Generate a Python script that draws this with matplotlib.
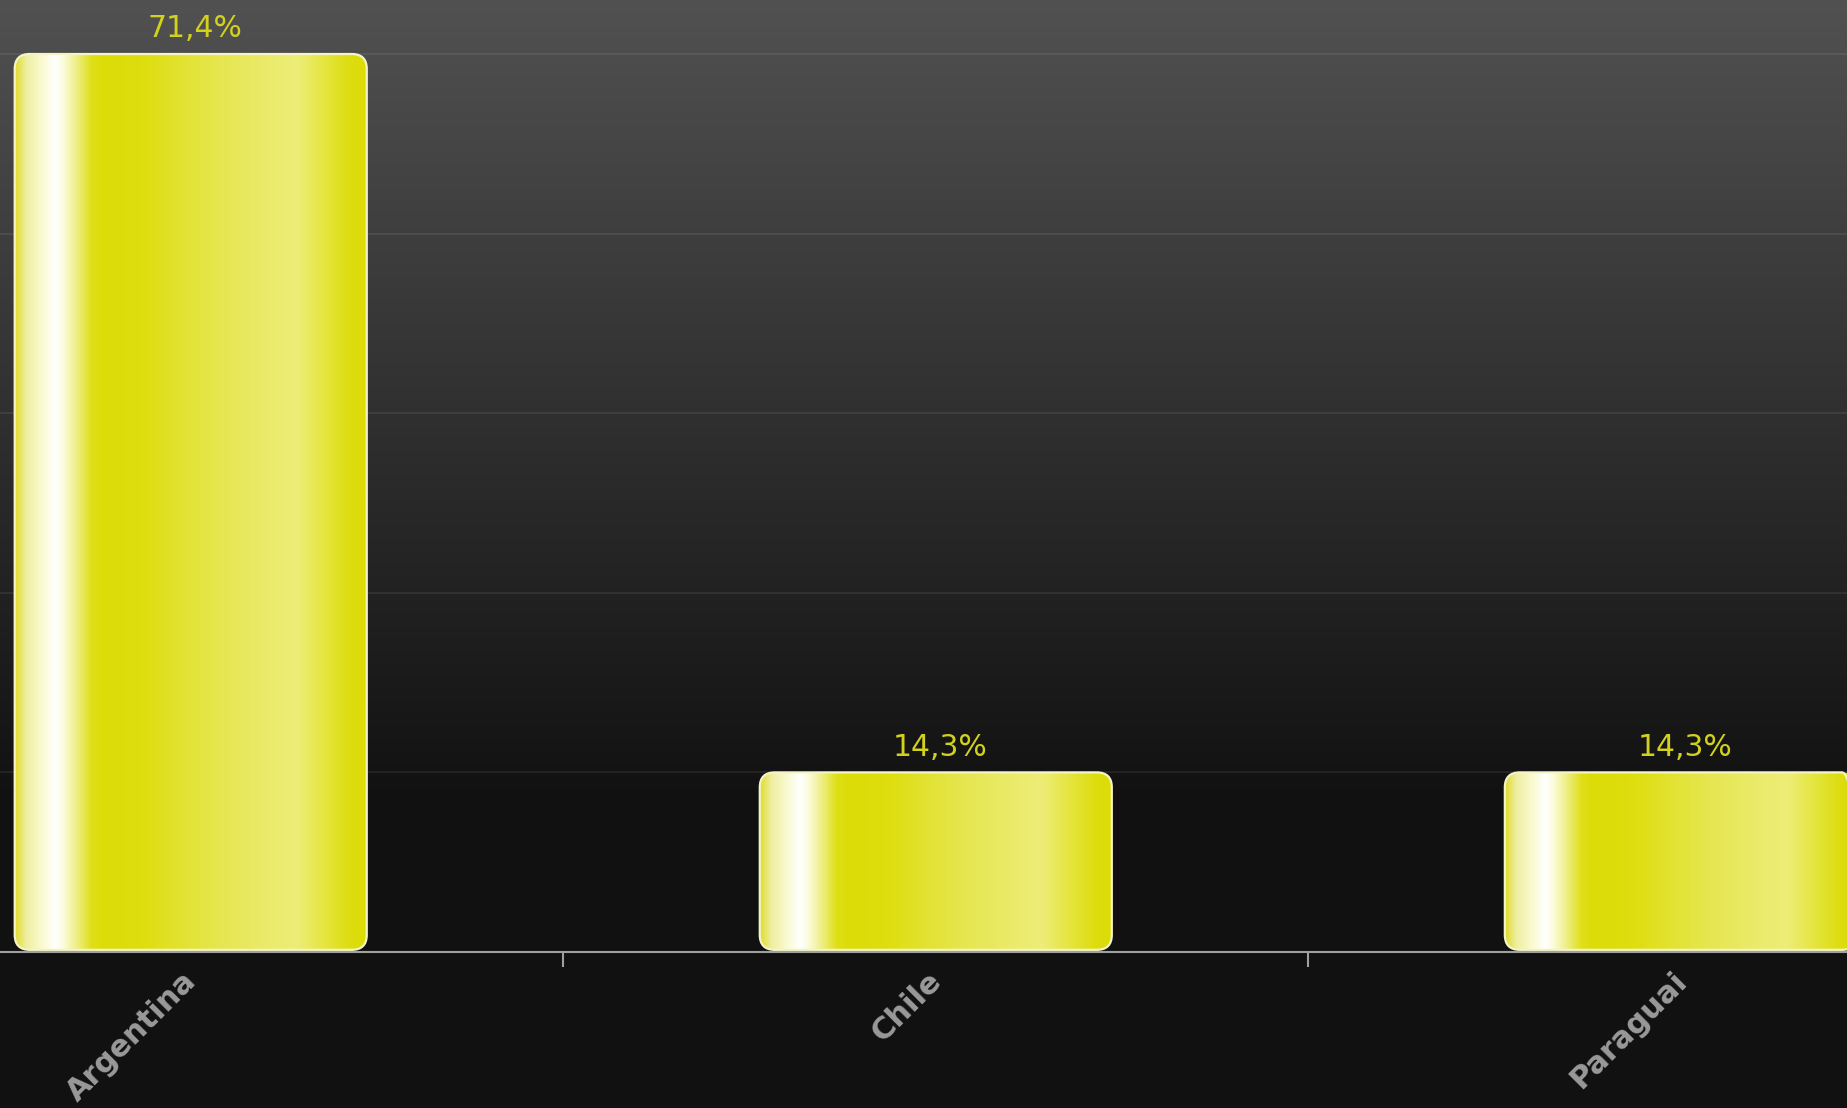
import numpy as np
import matplotlib
matplotlib.use('Agg')
import matplotlib.pyplot as plt
import matplotlib.transforms as mtransforms
from matplotlib.colors import LinearSegmentedColormap
from matplotlib.patches import FancyBboxPatch

# data: number of answers per country
countries = ['Argentina', 'Chile', 'Paraguai']
counts = [5, 1, 1]

total = sum(counts)
pct_labels = [f'{c / total * 100:.1f}%'.replace('.', ',') for c in counts]

W, H = 1847, 1108
fig = plt.figure(figsize=(W / 100, H / 100), dpi=100, facecolor='#111111')

# background gradient over the whole figure
ax_bg = fig.add_axes([0, 0, 1, 1], zorder=0)
rows = np.arange(H)
shade = np.where(rows < 800, 0x51 - 64 * rows / 800, 0x11) / 255.0
bg = np.repeat(shade[:, None], 3, axis=1)[:, None, :]
ax_bg.imshow(bg, aspect='auto', extent=(0, 1, 0, 1), interpolation='nearest')
ax_bg.set_axis_off()

bottom = (H - 952) / H
ax = fig.add_axes([0, bottom, 1, 1 - bottom], zorder=1)
ax.patch.set_alpha(0)

x = np.arange(len(countries))
xlim = (-0.256, 2.223)
ylim = (0, 952 / 179.6)
ax.set_xlim(*xlim)
ax.set_ylim(*ylim)

# horizontal grid
ax.set_yticks(np.arange(1, 6))
ax.yaxis.grid(True, color='white', alpha=0.075, lw=1.4)
ax.tick_params(axis='y', left=False, labelleft=False)
ax.set_axisbelow(True)

for side in ['top', 'left', 'right']:
    ax.spines[side].set_visible(False)
ax.spines['bottom'].set_color('#a0a0a0')
ax.spines['bottom'].set_linewidth(1.5)

ax.set_xticks(x)
ax.set_xticklabels(countries, rotation=45, ha='right', rotation_mode='anchor',
                   color='#9a9a9a', fontweight='bold', fontsize=22)
ax.tick_params(axis='x', which='major', length=0, pad=10)
shift = mtransforms.ScaledTranslation(-9 / 100, 0, fig.dpi_scale_trans)
for t in ax.get_xticklabels():
    t.set_transform(t.get_transform() + shift)
ax.set_xticks([0.5, 1.5], minor=True)
ax.tick_params(axis='x', which='minor', length=11, width=1.5, color='#a0a0a0')

bars = ax.bar(x, counts, width=0.4725, color='none', edgecolor='none')

# glossy yellow gradient across each bar
stops = [
    (0.00, '#e2dc30'), (0.03, '#eeeea0'), (0.074, '#fafad0'), (0.112, '#ffffff'),
    (0.134, '#fcfce0'), (0.176, '#eeee80'), (0.216, '#dfdf18'), (0.25, '#dcdc08'),
    (0.37, '#dede10'), (0.47, '#e2e232'), (0.58, '#e6e650'), (0.70, '#eaea68'),
    (0.80, '#eded78'), (0.87, '#e6e645'), (0.95, '#dddd10'), (1.00, '#dcdc05'),
]
cmap = LinearSegmentedColormap.from_list('gloss', stops)
grad = np.linspace(0, 1, 512)[None, :]

fig.canvas.draw()
bb = ax.get_window_extent()
px_x = bb.width / (xlim[1] - xlim[0])
px_y = bb.height / (ylim[1] - ylim[0])
radius_px = 15

for rect, lab in zip(bars, pct_labels):
    x0, w, h = rect.get_x(), rect.get_width(), rect.get_height()
    patch = FancyBboxPatch((x0, 0.012), w, h - 0.012,
                           boxstyle=f'round,pad=0,rounding_size={radius_px / px_x}',
                           mutation_aspect=px_x / px_y,
                           facecolor='none', edgecolor='#f4f4c8', lw=1.6, zorder=4)
    ax.add_patch(patch)
    im = ax.imshow(grad, cmap=cmap, aspect='auto', extent=(x0, x0 + w, 0, h),
                   interpolation='bilinear', zorder=3)
    im.set_clip_path(patch)
    ax.annotate(lab, (x0 + w / 2, h), xytext=(3, 12), textcoords='offset points',
                ha='center', va='baseline', color='#d2d21e', fontsize=21.5)

ax.set_xlim(*xlim)
ax.set_ylim(*ylim)

fig.savefig('out.png', dpi=100, facecolor=fig.get_facecolor())
